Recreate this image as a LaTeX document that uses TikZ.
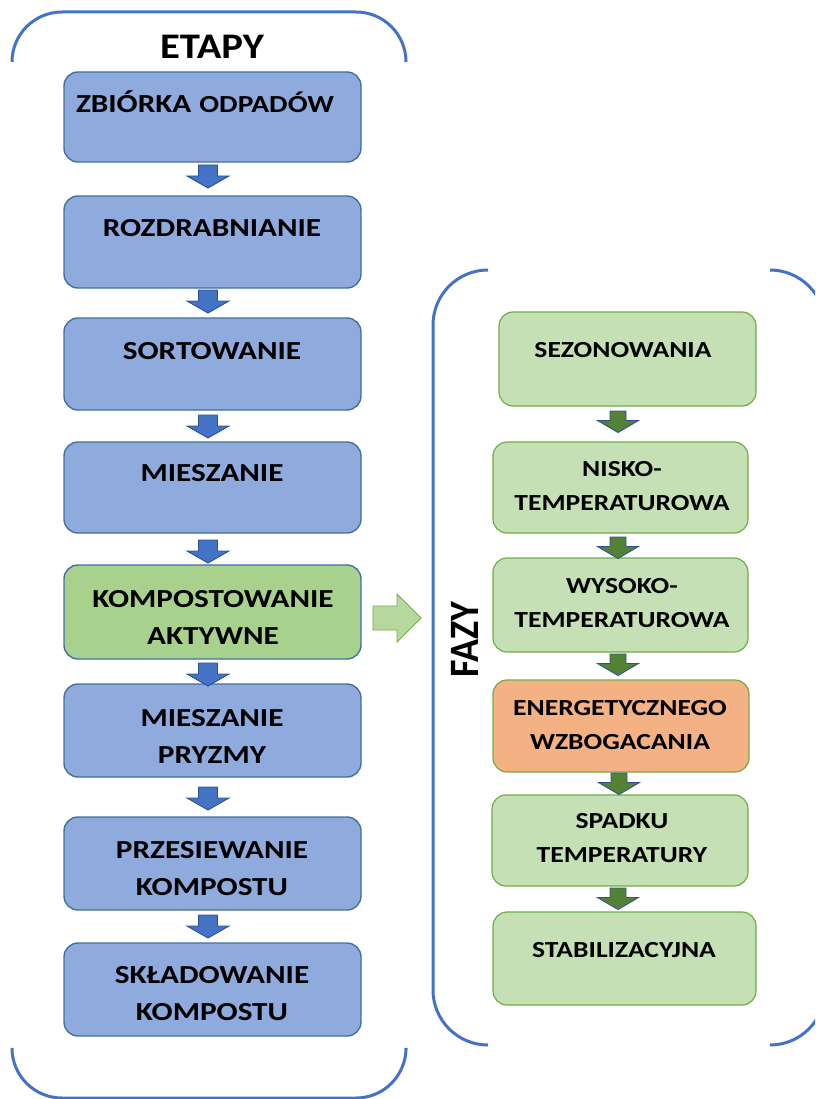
\documentclass[tikz,border=0pt]{standalone}
\usepackage{fontspec}
\usetikzlibrary{calc,fit}
\newfontfamily\labfont[FakeStretch=1.2]{Carlito}
\newfontfamily\headfont[FakeStretch=1.13]{Carlito}
\newfontfamily\plainlab{Carlito}

\definecolor{stepfill}{HTML}{8FAADC}
\definecolor{stepline}{HTML}{41719C}
\definecolor{activefill}{HTML}{A9D18E}
\definecolor{phasefill}{HTML}{C5E0B4}
\definecolor{phaseline}{HTML}{70AD47}
\definecolor{hotfill}{HTML}{F4B183}
\definecolor{bluearrow}{HTML}{4472C4}
\definecolor{arrowline}{HTML}{2F528F}
\definecolor{greenarrow}{HTML}{548235}
\definecolor{bracket}{HTML}{4472C4}

\tikzset{
  every node/.style={inner sep=0pt, outer sep=0pt},
  stepbox/.style={draw=stepline, fill=stepfill, line width=1.4pt, rounded corners=14pt},
  activebox/.style={stepbox, fill=activefill},
  phasebox/.style={draw=phaseline, fill=phasefill, line width=1.2pt, rounded corners=14pt},
  hotbox/.style={phasebox, fill=hotfill},
  ltext/.style={font=\labfont\bfseries\fontsize{26}{37}\selectfont, align=center, text=black},
  rtext/.style={font=\labfont\bfseries\fontsize{23}{34}\selectfont, align=center, text=black},
  bracketline/.style={draw=bracket, line width=3pt},
  pics/bluedown/.style={code={
    \path[draw=arrowline, fill=bluearrow, line width=0.9pt, line join=miter]
      (-9.5,0) -- (9.5,0) -- (9.5,11) -- (21,11) -- (0,23) -- (-21,11) -- (-9.5,11) -- cycle;}},
  pics/greendown/.style={code={
    \path[draw=arrowline, fill=greenarrow, line width=0.9pt, line join=miter]
      (-8,0) -- (8,0) -- (8,9.5) -- (20.5,9.5) -- (0,21.5) -- (-20.5,9.5) -- (-8,9.5) -- cycle;}},
}

\begin{document}
\begin{tikzpicture}[x=1pt, y=-1pt]
\clip (0,0) rectangle (815,1099);

% stages column
\node[stepbox, fit={(64,72) (361,162)}] (b1) {};
\node[stepbox, fit={(64,196) (361,288)}] (b2) {};
\node[stepbox, fit={(64,318) (361,410)}] (b3) {};
\node[stepbox, fit={(64,442) (361,533)}] (b4) {};
\node[activebox, fit={(64,565) (361,659)}] (b5) {};
\node[stepbox, fit={(64,684) (361,777)}] (b6) {};
\node[stepbox, fit={(64,817) (361,910)}] (b7) {};
\node[stepbox, fit={(64,943) (361,1036)}] (b8) {};

\node[anchor=base west, text=black] (t1) at (76,113)
  {\labfont\bfseries\fontsize{26}{30}\selectfont ZBIÓRKA\hspace{8pt}{\fontsize{24.5}{30}\selectfont ODPADÓW}};
\node[ltext] (t2) at (212,228) {ROZDRABNIANIE};
\node[ltext] (t3) at (212,351) {SORTOWANIE};
\node[ltext] (t4) at (212,473) {MIESZANIE};
\node[ltext] (t5) at (213,617) {KOMPOSTOWANIE\\AKTYWNE};
\node[ltext] (t6) at (212,736) {MIESZANIE\\PRYZMY};
\node[ltext] (t7) at (212,868.5) {PRZESIEWANIE\\KOMPOSTU};
\node[ltext] (t8) at (212,994) {SKŁADOWANIE\\KOMPOSTU};

\pic at ($(b1.south)+(-4.5,3)$) {bluedown};
\pic at ($(b2.south)+(-4.5,2)$) {bluedown};
\pic at ($(b3.south)+(-4.5,5)$) {bluedown};
\pic at ($(b4.south)+(-4.5,7)$) {bluedown};
\pic at ($(b5.south)+(-4.5,4)$) {bluedown};
\pic at ($(b6.south)+(-4.5,10)$) {bluedown};
\pic at ($(b7.south)+(-4.5,5)$) {bluedown};

\node[font=\headfont\bfseries\fontsize{36}{40}\selectfont] (etapy) at (212,47) {ETAPY};

% phases column
\node[phasebox, fit={(499,312) (756,406)}] (r1) {};
\node[phasebox, fit={(493,442) (748,533)}] (r2) {};
\node[phasebox, fit={(493,558) (748,652)}] (r3) {};
\node[hotbox, fit={(493,680) (749,772)}] (r4) {};
\node[phasebox, fit={(492,795) (748,886)}] (r5) {};
\node[phasebox, fit={(493,912) (756,1005)}] (r6) {};

\node[rtext] (p1) at (623,350) {SEZONOWANIA};
\node[rtext] (p2) at (622,486.5) {NISKO-\\TEMPERATUROWA};
\node[rtext] (p3) at (622,603) {WYSOKO-\\TEMPERATUROWA};
\node[rtext] (p4) at (620,725) {ENERGETYCZNEGO\\WZBOGACANIA};
\node[rtext] (p5) at (622,838.5) {SPADKU\\TEMPERATURY};
\node[rtext] (p6) at (624,950) {STABILIZACYJNA};

\pic at ($(r1.south)+(-9.5,5)$) {greendown};
\pic at ($(r2.south)+(-2.5,4)$) {greendown};
\pic at ($(r3.south)+(-2.5,2)$) {greendown};
\pic at ($(r4.south)+(-2,1)$) {greendown};
\pic at ($(r5.south)+(-2,2)$) {greendown};

\node[rotate=90, font=\plainlab\bfseries\fontsize{38}{40}\selectfont] (fazy) at (465,640)
  {\scalebox{1}[1.1]{FAZY}};

% link from the active stage to the phases
\path[draw=phaseline, fill=activefill!85!white, line width=0.8pt]
  ($(b5.east)+(12,-6)$) coordinate (ga) -- ++(24,0) -- ++(0,-12) -- ++(24,24)
  -- ++(-24,24) -- ++(0,-12) -- ++(-24,0) -- cycle;

% brackets
\draw[bracketline, rounded corners=50pt] (12,62) -- (12,12) -- (406,12) -- (406,62);
\draw[bracketline, rounded corners=50pt] (12,1050) -- (12,1098) -- (406,1098) -- (406,1050);
\draw[bracketline, rounded corners=55pt] (488,270) -- (433,270) -- (433,1045) -- (488,1045);
\draw[bracketline, rounded corners=55pt] (770,270) -- (825,270) -- (825,1045) -- (770,1045);
\end{tikzpicture}
\end{document}
